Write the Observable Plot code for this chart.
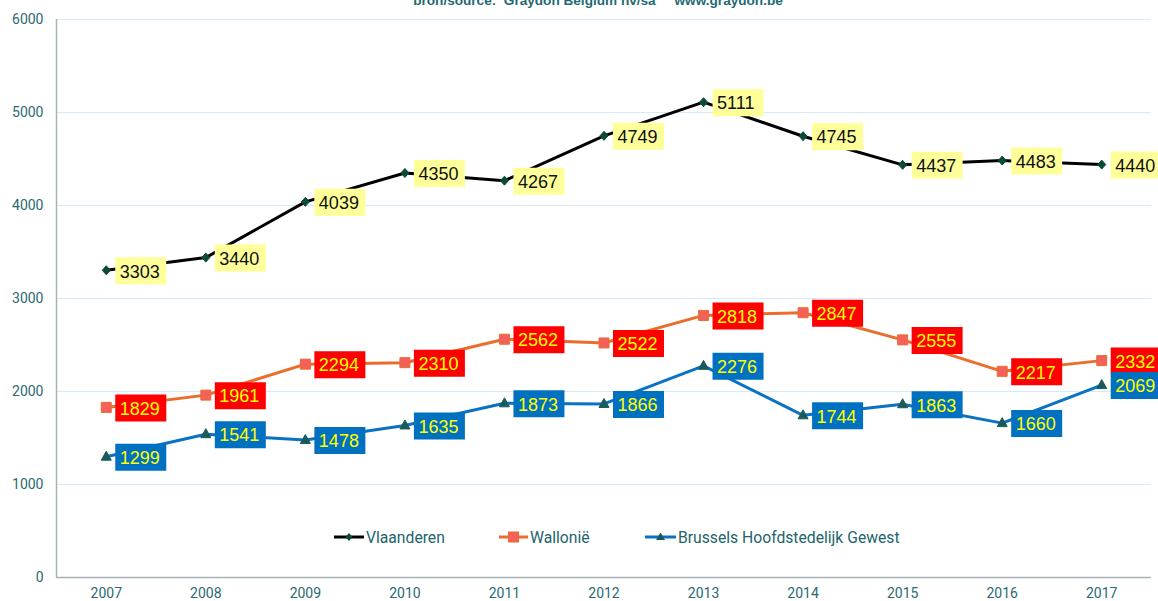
<!DOCTYPE html>
<html>
<head>
<meta charset="utf-8">
<script src="https://cdn.jsdelivr.net/npm/d3@7"></script>
<script src="https://cdn.jsdelivr.net/npm/@observablehq/plot@0.6"></script>
<style>
  body { margin: 0; background: #fff; }
  #wrap { position: relative; width: 1158px; height: 601px; overflow: hidden; }
  #legend { position: absolute; top: 527px; left: 0; width: 1158px; height: 20px;
    font-family: Roboto, sans-serif; font-size: 15.7px; color: #22646c; }
  .li { position: absolute; top: 0; display: flex; align-items: center; height: 20px; }
  .li svg { display: block; }
</style>
</head>
<body>
<div id="wrap"></div>
<script>
const years = [2007, 2008, 2009, 2010, 2011, 2012, 2013, 2014, 2015, 2016, 2017];
const vlaanderen = [3303, 3440, 4039, 4350, 4267, 4749, 5111, 4745, 4437, 4483, 4440];
const wallonie   = [1829, 1961, 2294, 2310, 2562, 2522, 2818, 2847, 2555, 2217, 2332];
const brussel    = [1299, 1541, 1478, 1635, 1873, 1866, 2276, 1744, 1863, 1660, 2069];
const seriesNames = ["Vlaanderen", "Wallonië", "Brussels Hoofdstedelijk Gewest"];
const yTicks = [0, 1000, 2000, 3000, 4000, 5000, 6000];
const sourceText = "bron/source:  Graydon Belgium nv/sa     www.graydon.be";

const styles = {
  "Vlaanderen": {line: "#000000", marker: "#0b4a38", mstroke: "#0b4a38", box: "#ffff99", text: "#111111", sym: "diamond"},
  "Wallonië": {line: "#ea6d2c", marker: "#f4605a", mstroke: "#ea6d2c", box: "#ff0000", text: "#ffff00", sym: "square"},
  "Brussels Hoofdstedelijk Gewest": {line: "#0a72c2", marker: "#1b5a5a", mstroke: "#1b5a5a", box: "#0070c0", text: "#ffff00", sym: "triangle"}
};

const data = [];
[vlaanderen, wallonie, brussel].forEach((arr, i) => {
  arr.forEach((v, j) => data.push({series: seriesNames[i], year: years[j], value: v}));
});

const symDiamond = {draw(ctx) { ctx.moveTo(0, -4.5); ctx.lineTo(4, 0); ctx.lineTo(0, 4.5); ctx.lineTo(-4, 0); ctx.closePath(); }};
const symSquare = {draw(ctx) { ctx.rect(-5, -5, 10, 10); }};
const symTriangle = {draw(ctx) { ctx.moveTo(0, -5.5); ctx.lineTo(5, 3.5); ctx.lineTo(-5, 3.5); ctx.closePath(); }};
const symBox = {draw(ctx) { ctx.rect(-25.5, -13.5, 51, 27); }};
const symMap = {diamond: symDiamond, square: symSquare, triangle: symTriangle};

const marks = [
  Plot.gridY(yTicks, {stroke: "#d4ecf7", strokeOpacity: 1, strokeWidth: 1}),
  Plot.ruleY([0], {stroke: "#a9b3b5", strokeWidth: 1.5}),
  Plot.ruleX([2006.5], {stroke: "#a9b3b5", strokeWidth: 1.5}),
  Plot.axisY(yTicks, {tickSize: 0, tickPadding: 13, fontSize: 14, fill: "#2b6a72", fontFamily: "Roboto, sans-serif", label: null, tickFormat: d => String(d)}),
  Plot.axisX(years, {tickSize: 0, tickPadding: 11, fontSize: 14, fill: "#2b6a72", fontFamily: "Roboto, sans-serif", label: null, tickFormat: d => String(d)}),
  Plot.text([sourceText], {frameAnchor: "top", dx: -6, dy: -14.5, lineAnchor: "bottom", fontSize: 13.6, fontWeight: "bold", fontFamily: "Liberation Sans, Arial, sans-serif", fill: "#1f6a72"})
];

for (const name of seriesNames) {
  const s = styles[name];
  const d = data.filter(r => r.series === name);
  marks.push(Plot.line(d, {x: "year", y: "value", stroke: s.line, strokeWidth: 3}));
}
for (const name of seriesNames) {
  const s = styles[name];
  const d = data.filter(r => r.series === name);
  marks.push(Plot.dot(d, {x: "year", y: "value", symbol: symMap[s.sym], fill: s.marker, stroke: s.mstroke, strokeWidth: 1, r: 4}));
}
for (const name of seriesNames) {
  const s = styles[name];
  const d = data.filter(r => r.series === name);
  marks.push(Plot.dot(d, {x: "year", y: "value", symbol: symBox, fill: s.box, stroke: "none", r: 4, dx: 34.5, dy: 0.5}));
  marks.push(Plot.text(d, {x: "year", y: "value", text: r => String(r.value), textAnchor: "start", dx: 13.5, dy: 1.5, fontSize: 18, fontFamily: "Liberation Sans, Arial, sans-serif", fill: s.text}));
}

const chart = Plot.plot({
  width: 1158,
  height: 601,
  marginTop: 19,
  marginBottom: 24,
  marginLeft: 56,
  marginRight: 7,
  x: {type: "linear", domain: [2006.5, 2017.5]},
  y: {domain: [0, 6000]},
  style: {background: "#fff", overflow: "visible"},
  marks
});
document.getElementById("wrap").appendChild(chart);

// Legend
const legend = document.createElement("div");
legend.id = "legend";
const legendPos = [334, 499, 645];
const swatchW = [30, 29, 31];
seriesNames.forEach((name, i) => {
  const s = styles[name];
  const item = document.createElement("div");
  item.className = "li";
  item.style.left = legendPos[i] + "px";
  const w = swatchW[i];
  let marker = "";
  const c = w / 2;
  if (s.sym === "diamond") marker = `<path d="M${c},6 L${c+3.5},10 L${c},14 L${c-3.5},10 Z" fill="${s.marker}"/>`;
  if (s.sym === "square") marker = `<rect x="${c-5}" y="5" width="10" height="10" fill="${s.marker}" stroke="${s.mstroke}"/>`;
  if (s.sym === "triangle") marker = `<path d="M${c},5.5 L${c+4.5},13 L${c-4.5},13 Z" fill="${s.marker}"/>`;
  item.innerHTML = `<svg width="${w}" height="20"><line x1="0" x2="${w}" y1="10" y2="10" stroke="${s.line}" stroke-width="3"/>${marker}</svg><span style="margin-left:2px">${name}</span>`;
  legend.appendChild(item);
});
document.getElementById("wrap").appendChild(legend);
</script>
</body>
</html>
